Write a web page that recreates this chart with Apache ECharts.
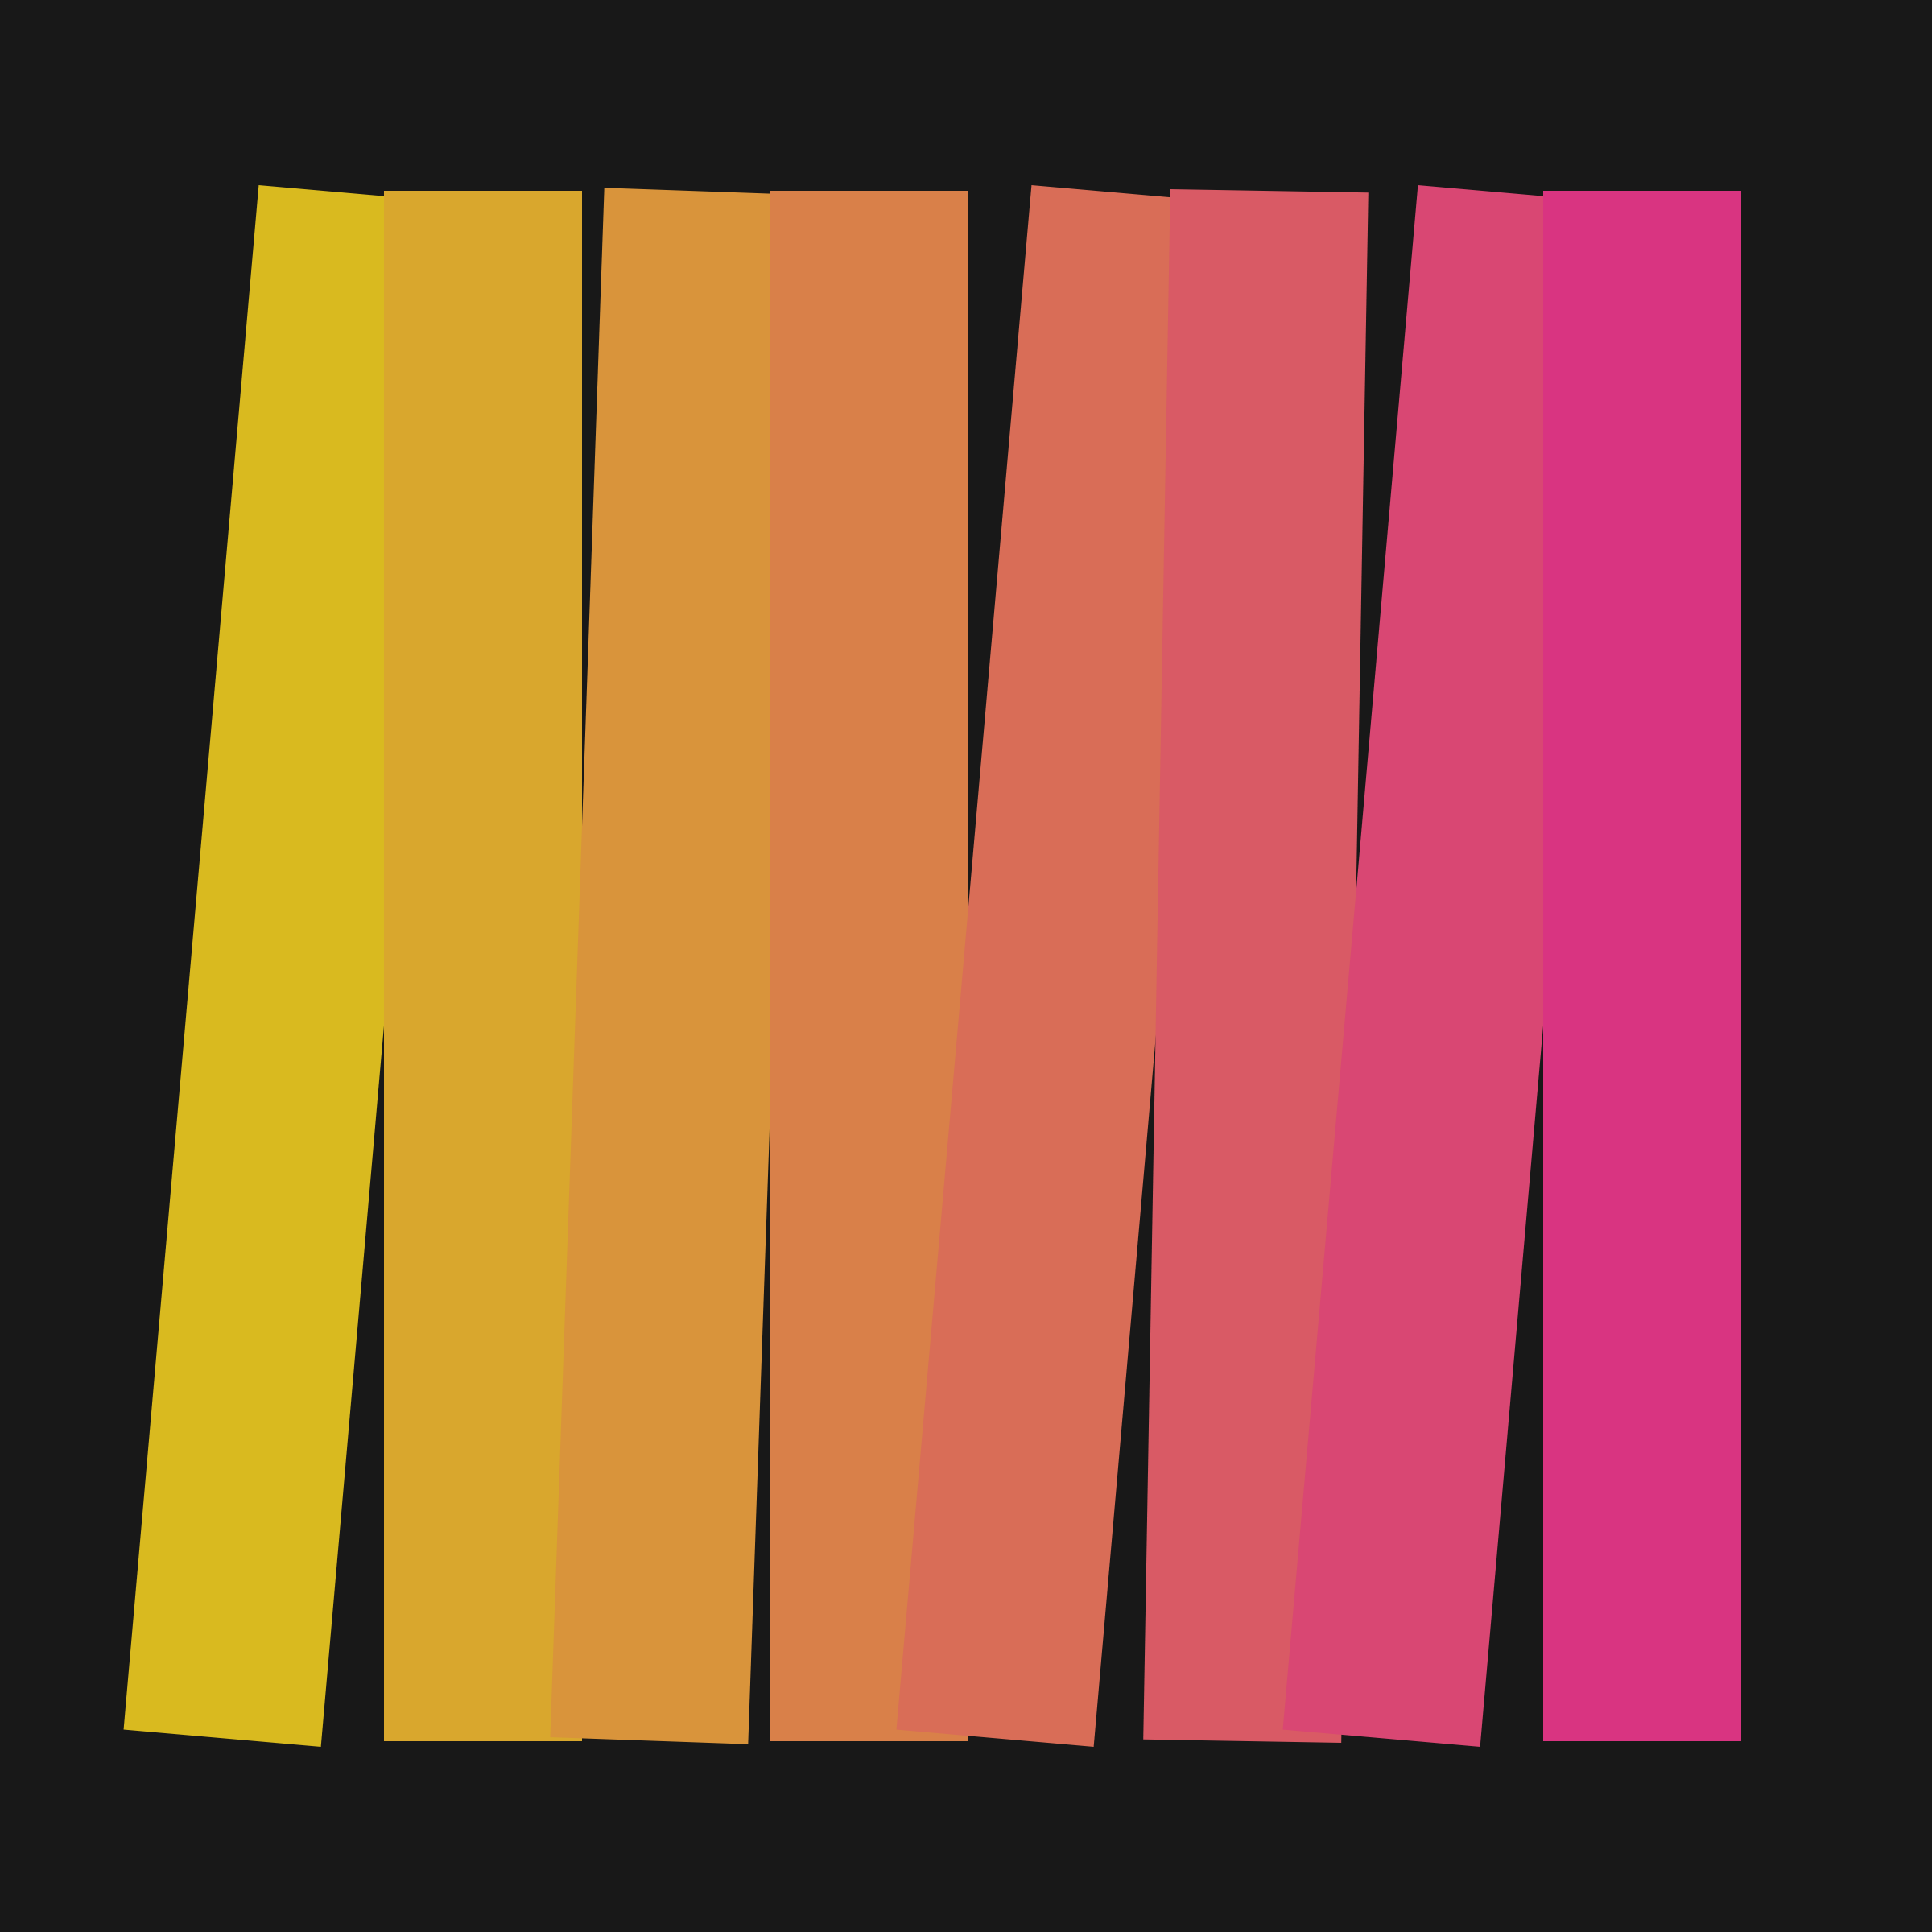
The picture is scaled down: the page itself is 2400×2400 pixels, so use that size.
<!DOCTYPE html>
<html>
<head>
<meta charset="utf-8">
<script src="https://cdn.jsdelivr.net/npm/echarts@6/dist/echarts.min.js"></script>
<style>
    html, body { margin: 0; padding: 0; background: #181818; }
    #main { width: 2400px; height: 2400px; }
</style>
</head>
<body>
<div id="main"></div>
<script type="text/javascript">
    // bar centres / sizes in a 0..2400 space, tilt in degrees (clockwise)
    var centerX = [360, 600, 840, 1080, 1320, 1560, 1800, 2040];
    var centerY = [1200, 1200, 1200, 1200, 1200, 1200, 1200, 1200];
    var barWidth = [246, 246, 246, 246, 246, 246, 246, 246];
    var barHeight = [1926, 1926, 1926, 1926, 1926, 1926, 1926, 1926];
    var tilt = [5, 0, 2, 0, 5, 1, 5, 0];
    var colors = ['#D9BA1F', '#D9A72D', '#D9943B', '#D98049', '#D96D57', '#D95A65', '#D94773', '#D93481'];

    var data = [];
    for (var i = 0; i < centerX.length; i++) {
        data.push([centerX[i], centerY[i], barWidth[i], barHeight[i], tilt[i], i]);
    }

    var myChart = echarts.init(document.getElementById('main'));

    var option = {
        backgroundColor: '#181818',
        animation: false,
        grid: { left: 0, right: 0, top: 0, bottom: 0 },
        xAxis: { type: 'value', min: 0, max: 2400, show: false },
        yAxis: { type: 'value', min: 0, max: 2400, inverse: true, show: false },
        series: [
            {
                type: 'custom',
                data: data,
                renderItem: function (params, api) {
                    var c = api.coord([api.value(0), api.value(1)]);
                    var s = api.size([api.value(2), api.value(3)]);
                    var a = api.value(4) * Math.PI / 180;
                    var hw = s[0] / 2, hh = s[1] / 2;
                    var cs = Math.cos(a), sn = Math.sin(a);
                    var pts = [[-hw, -hh], [hw, -hh], [hw, hh], [-hw, hh]].map(function (p) {
                        return [c[0] + p[0] * cs - p[1] * sn, c[1] + p[0] * sn + p[1] * cs];
                    });
                    return {
                        type: 'polygon',
                        shape: { points: pts },
                        style: { fill: colors[api.value(5)] }
                    };
                }
            }
        ]
    };

    myChart.setOption(option);
</script>
</body>
</html>
